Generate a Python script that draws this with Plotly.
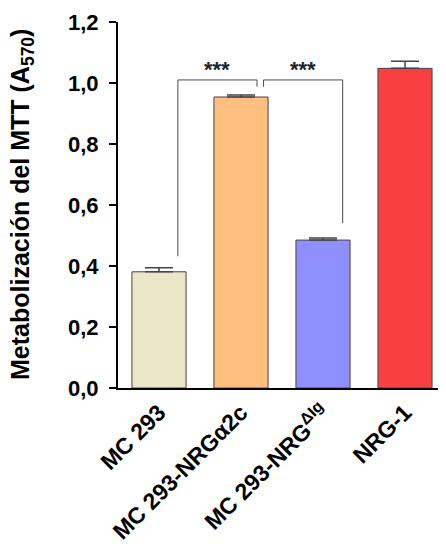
import plotly.graph_objects as go

categories = ["MC 293", "MC 293-NRGα2c", "MC 293-NRG<sup>ΔIg</sup>", "NRG-1"]
values = [0.381, 0.954, 0.485, 1.048]
errors = [0.013, 0.007, 0.007, 0.023]
colors = ["#ECE6C8", "#FFBF7F", "#8F8FFF", "#F94040"]
y_ticks = [0.0, 0.2, 0.4, 0.6, 0.8, 1.0, 1.2]
sig_labels = ["***", "***"]
y_title = "Metabolización del MTT (A<sub>570</sub>)"

FONT = "Liberation Sans, Arial, sans-serif"
x_idx = list(range(len(categories)))

# page body has an 8px margin, so the figure is sized to fit the window
W, H = 438, 538
L, R, T, B = 110, 0, 14, 158

fig = go.Figure()
fig.add_trace(go.Bar(
    x=x_idx, y=values, width=0.66,
    marker=dict(color=colors, line=dict(color="#444444", width=1)),
    error_y=dict(type="data", symmetric=False, array=errors,
                 arrayminus=[0] * len(errors), color="#444444",
                 thickness=1.5, width=14),
    showlegend=False,
))

# significance brackets
br_color = "#4a4a4a"
def bracket(x0, x1, ytop, y0, y1):
    fig.add_shape(type="path", xref="x", yref="y",
                  path=f"M {x0},{y0} L {x0},{ytop} L {x1},{ytop} L {x1},{y1}",
                  line=dict(color=br_color, width=1))

bracket(0.23, 1.195, 1.01, 0.432, 0.988)
bracket(1.275, 2.24, 1.01, 0.988, 0.54)
for xc, lab in zip([0.712, 1.757], sig_labels):
    fig.add_annotation(x=xc, y=1.043, text=lab, showarrow=False,
                       font=dict(family=FONT, size=22, color="#222222", weight="bold"),
                       xref="x", yref="y")

# y-axis title
plot_w = W - L - R
plot_h = H - T - B
fig.add_annotation(
    text=y_title, textangle=-90, showarrow=False,
    xref="paper", yref="paper",
    x=(14 - L) / plot_w, y=(H - B - 197) / plot_h,
    xanchor="center", yanchor="middle",
    font=dict(family=FONT, size=25, color="black", weight="bold"),
)

fig.update_layout(
    width=W, height=H,
    margin=dict(l=L, r=R, t=T, b=B),
    plot_bgcolor="white", paper_bgcolor="white",
    separators=",.",
)
fig.update_xaxes(
    range=[-0.5, 3.5], tickvals=x_idx,
    ticktext=categories, automargin=False,
    tickangle=-45, showline=True, linecolor="black", linewidth=2,
    ticks="", showgrid=False, zeroline=False,
    tickfont=dict(family=FONT, size=23, color="black", weight="bold"),
)
fig.update_yaxes(
    range=[0, 1.2], tickvals=y_ticks, tickformat=".1f", automargin=False,
    showline=True, linecolor="black", linewidth=2,
    ticks="outside", ticklen=7, tickwidth=2, tickcolor="black",
    ticklabelstandoff=6,
    showgrid=False, zeroline=False,
    tickfont=dict(family=FONT, size=22, color="black", weight="bold"),
)

fig.write_html("out.html")
